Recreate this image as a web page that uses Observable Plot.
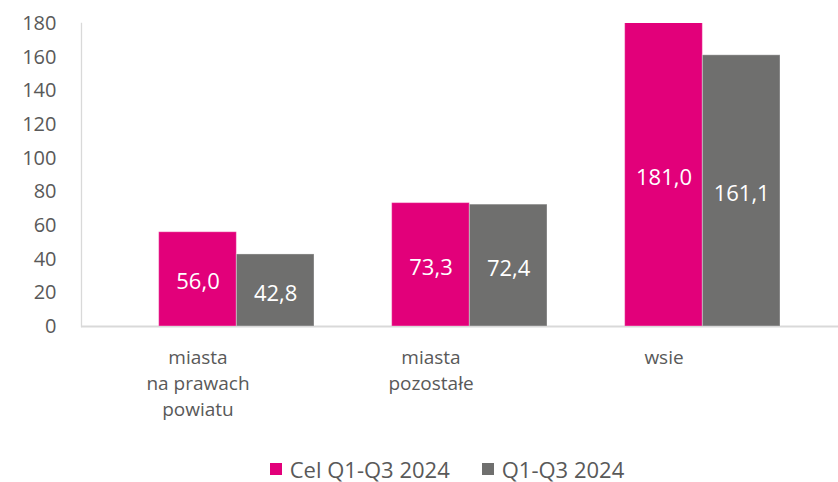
<!DOCTYPE html>
<html>
<head>
<meta charset="utf-8">
<script src="https://cdn.jsdelivr.net/npm/d3@7"></script>
<script src="https://cdn.jsdelivr.net/npm/@observablehq/plot@0.6"></script>
<style>
  html, body { margin: 0; padding: 0; background: #fff; }
  #chart { width: 838px; height: 482px; font-family: "Open Sans", "Noto Sans", sans-serif; }
  .legend { display: flex; justify-content: center; align-items: center; gap: 32px; height: 37px; font-size: 22px; color: #595959; padding-left: 56px; padding-top: 10px; box-sizing: border-box; }
  .legend span.sw { display: inline-block; width: 12px; height: 12px; margin-right: 8px; }
  .legend div { display: flex; align-items: center; }
</style>
</head>
<body>
<div id="chart"></div>
<script>
const categories = ["miasta\nna prawach\npowiatu", "miasta\npozostałe", "wsie"];
const seriesNames = ["Cel Q1-Q3 2024", "Q1-Q3 2024"];
const celValues = [56.0, 73.3, 181.0];
const actualValues = [42.8, 72.4, 161.1];
const yTicks = [0, 20, 40, 60, 80, 100, 120, 140, 160, 180];
const colors = ["#E2007A", "#6F6F6E"];

const celData = categories.map((c, i) => ({category: c, value: celValues[i]}));
const actData = categories.map((c, i) => ({category: c, value: actualValues[i]}));
const fmt = v => v.toFixed(1).replace(".", ",");

const W = 838, H = 445;
const bandStart = 81, bandEnd = 780;
const step = (bandEnd - bandStart) / categories.length;
const third = step / 3;

const chart = Plot.plot({
  width: W,
  height: H,
  marginTop: 23,
  marginBottom: H - 326,
  marginLeft: 81,
  marginRight: 0,
  style: {fontFamily: "'Open Sans', 'Noto Sans', sans-serif", fontSize: "19px", color: "#595959", background: "#fff", overflow: "visible"},
  x: {domain: categories, range: [bandStart, bandEnd], padding: 0, label: null},
  y: {domain: [0, 180], label: null},
  marks: [
    Plot.frame({anchor: "left", stroke: "#d9d9d9", strokeWidth: 1.3}),
    Plot.ruleY([0], {stroke: "#d9d9d9", strokeWidth: 2}),
    Plot.barY(celData, {x: "category", y: "value", fill: colors[0], insetLeft: third, insetRight: third, clip: true, stroke: "#ffffff", strokeOpacity: 0.35, strokeWidth: 1}),
    Plot.barY(actData, {x: "category", y: "value", fill: colors[1], insetLeft: 2 * third, insetRight: 0, clip: true, stroke: "#ffffff", strokeOpacity: 0.35, strokeWidth: 1}),
    Plot.text(celData, {x: "category", y: d => Math.min(d.value, 180) / 2, text: d => fmt(d.value), fill: "white", fontSize: 22, dy: 3}),
    Plot.text(actData, {x: "category", y: d => Math.min(d.value, 180) / 2, text: d => fmt(d.value), fill: "white", fontSize: 22, dx: third, dy: 3}),
    Plot.axisY({ticks: yTicks, tickSize: 0, tickPadding: 25, fontSize: 20, fill: "#595959", tickFormat: d => String(d), label: null}),
    Plot.axisX({tickSize: 0, tickPadding: 19, fontSize: 19, fill: "#595959", lineHeight: 1.36, label: null})
  ]
});

const root = document.getElementById("chart");
root.appendChild(chart);
const legend = document.createElement("div");
legend.className = "legend";
seriesNames.forEach((name, i) => {
  const item = document.createElement("div");
  const sw = document.createElement("span");
  sw.className = "sw";
  sw.style.background = colors[i];
  item.appendChild(sw);
  item.appendChild(document.createTextNode(name));
  legend.appendChild(item);
});
root.appendChild(legend);
</script>
</body>
</html>
